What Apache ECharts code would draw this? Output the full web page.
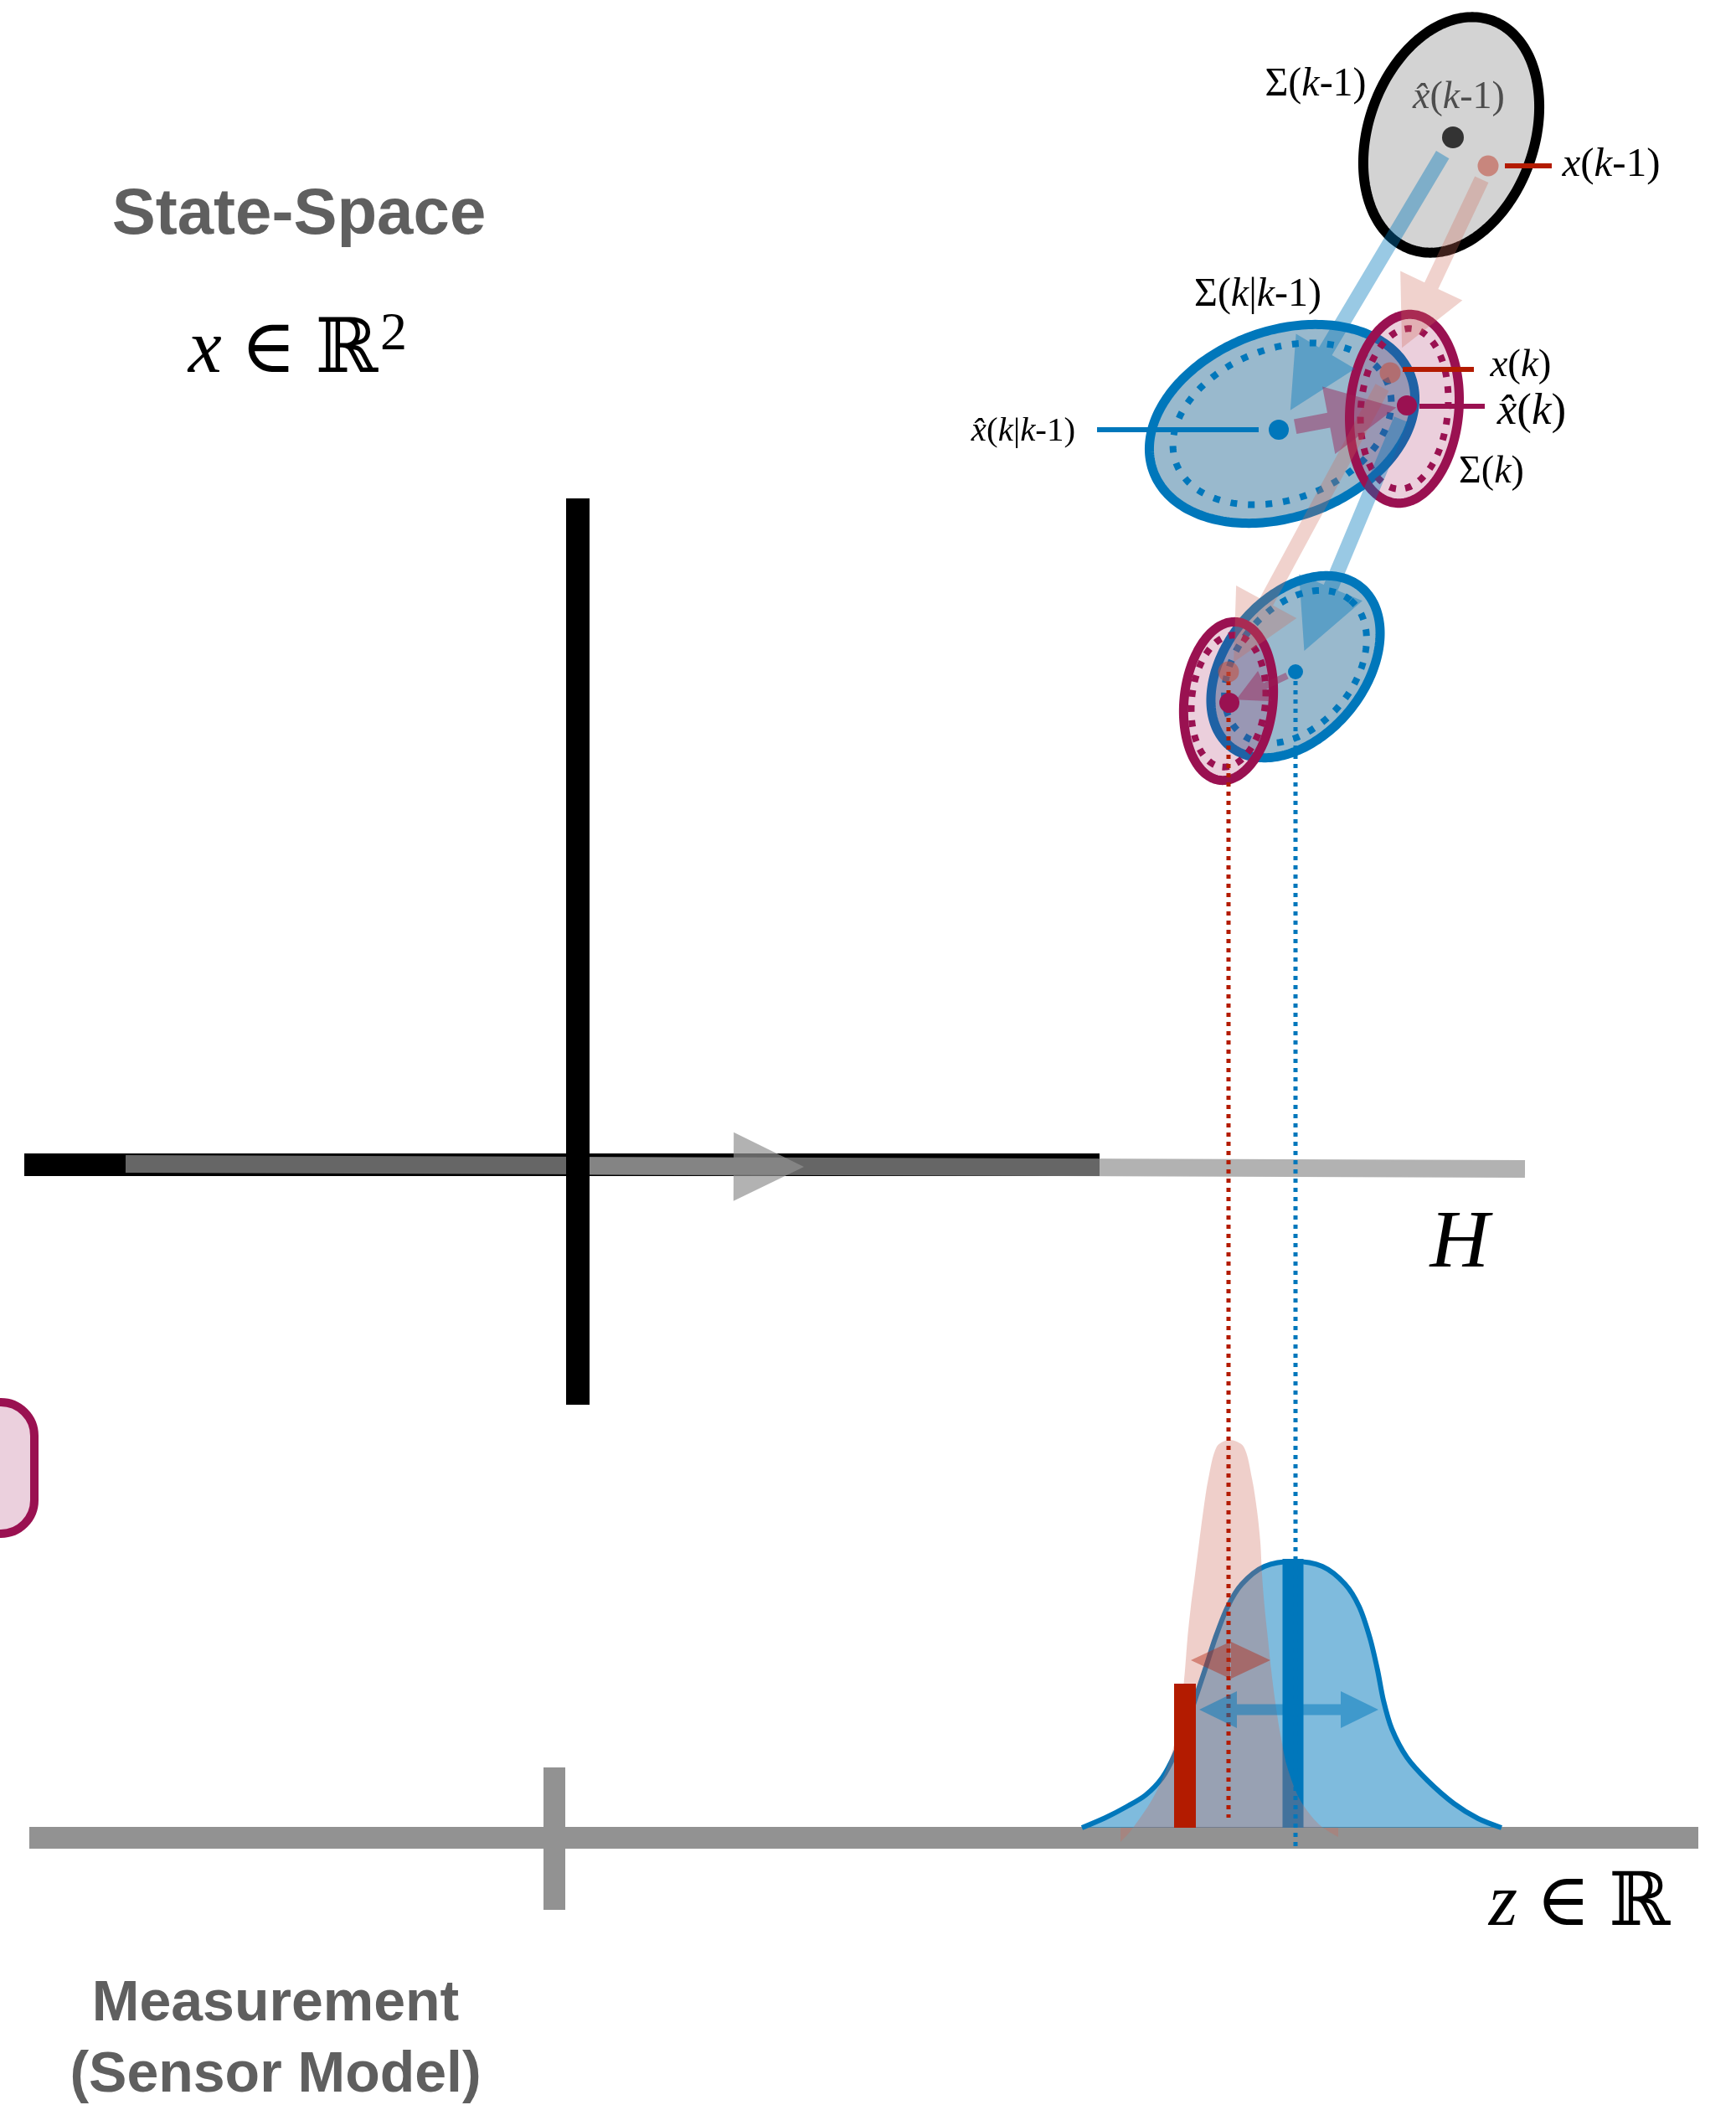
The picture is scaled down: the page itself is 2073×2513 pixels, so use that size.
<!DOCTYPE html>
<html><head><meta charset="utf-8">
<script src="https://cdn.jsdelivr.net/npm/echarts@6/dist/echarts.min.js"></script>
<style>html,body{margin:0;padding:0;background:#fff}#c{width:2073px;height:2513px}</style>
</head><body><div id="c"></div>
<script>
// ================= DATA (diagram units, y grows downward) =================
// Ellipses: [cx, cy, semi-major, semi-minor, major-axis angle in degrees above horizontal]
const ellipseKm1        = [1733, 161, 145, 99, 70.6];   // Σ(k-1)
const ellipsePred       = [1531, 506, 164, 111, 20.3];  // Σ(k|k-1)
const ellipsePredInner  = [1531, 506, 135, 90, 20.3];
const ellipseUpd        = [1677, 488, 113, 65, 85];     // Σ(k)
const ellipseUpdInner   = [1677, 488, 96, 52, 85];
const ellipsePred2      = [1547, 796, 123, 83, 50.6];
const ellipsePred2Inner = [1547, 796, 103, 70, 50.6];
const ellipseUpd2       = [1467, 837, 95, 53, 84];
const ellipseUpd2Inner  = [1467, 837, 79, 44, 84];

// State points
const xhatKm1   = [1735, 164];  // x̂(k-1)
const xKm1      = [1777, 198];  // x(k-1)
const xhatPred  = [1527, 513];  // x̂(k|k-1)
const xhatK     = [1680, 484];  // x̂(k)
const xK        = [1660, 445];  // x(k)
const xhatPred2 = [1547, 802];
const xK1       = [1467, 802];
const xhatK1    = [1468, 839];

// Leader lines for labels
const leadXkm1    = [[1797, 198], [1853, 198]];
const leadXk      = [[1675, 441], [1760, 441]];
const leadXhatK   = [[1695, 485], [1773, 485]];
const leadXhatPrd = [[1310, 513], [1503, 513]];

// Middle: observation map H
const blackBarH   = [[29, 1390.5], [1313, 1390.5]];
const grayBarH    = [[150, 1389.5], [1821, 1395.5]];
const hArrow      = [[690, 1392], [960, 1393]];
const blackBarV   = [[690, 595], [690, 1677]];
const noiseBox    = [-60, 1674, 41, 1831];

// Bottom: measurement space
const zAxisLine   = [[35, 2194], [2028, 2194]];
const zAxisTick   = [[662, 2110], [662, 2280]];
const zBaseline   = 2182;
const zTrueBar    = [[1415, 2182], [1415, 2010]];
const zPredBar    = [[1544, 2182], [1544, 1861]];
const trueDrop    = [[1467, 802], [1467, 2170]];
const predDrop    = [[1547, 802], [1547, 2209]];
const blueCurve = [[1292,2182],[1320,2170],[1345,2157],[1368,2143],[1388,2122],[1403,2094],[1418,2056],
  [1430,2020],[1440,1990],[1451,1956],[1466,1918],[1483,1891],[1510,1870],[1545,1864],[1579,1870],
  [1606,1891],[1623,1918],[1636,1956],[1645,1994],[1652,2030],[1662,2064],[1680,2098],[1705,2126],
  [1736,2153],[1765,2171],[1793,2182]];
const pinkCurve = [[1338,2199],[1350,2186],[1376,2148],[1394,2109],[1405,2071],[1411,2033],[1415,1994],
  [1418,1956],[1422,1918],[1427,1880],[1432,1841],[1437,1803],[1443,1765],[1453,1727],[1468,1719],
  [1485,1727],[1495,1765],[1501,1803],[1505,1841],[1507,1880],[1510,1918],[1514,1956],[1518,1994],
  [1523,2033],[1529,2071],[1537,2109],[1552,2148],[1575,2178],[1598,2193]];
const redSpread  = [[1422, 1982], [1517, 1982]];
const blueSpread = [[1432, 2041], [1646, 2041]];

// Text labels: [x, y]
const posStateSpace = [357, 257];
const posXinR2 = [338, 420], posSup2 = [470, 400];
const posH = [1743, 1486];
const posZinR = [1886, 2275];
const posMeas1 = [329, 2393], posMeas2 = [329, 2478];
const posSigKm1 = [1571, 101], posXhatKm1 = [1742, 117], posXKm1 = [1924, 197];
const posSigPred = [1502, 352], posXk = [1816, 437], posXhatK = [1829, 492];
const posSigK = [1781, 564], posXhatPred = [1222, 515];

// ================= STYLE =================
const BLUE = '#0077bb', PURPLE = '#9a1151', RED = '#b31b00';
const serif = '"Liberation Serif","DejaVu Serif",serif';
const sans = '"Liberation Sans","Arial","DejaVu Sans",sans-serif';

const series = [];
function add(s) { s.silent = true; s.animation = false; s.z = series.length + 1; series.push(s); }

function seg(points, color, width, dash) {
  return {type:'line', data:points, symbol:'none', smooth:false,
    lineStyle:{color, width, type: dash || 'solid', cap:'butt'}};
}
function ellipse(e, style) {
  return {type:'custom', coordinateSystem:'cartesian2d', data:[e],
    renderItem(p, api) {
      const c = api.coord([api.value(0), api.value(1)]);
      const s = api.size([1, 1]);
      const a = api.value(2), b = api.value(3), t = api.value(4) * Math.PI / 180;
      const pts = [];
      for (let i = 0; i < 240; i++) {
        const u = 2 * Math.PI * i / 240, ex = a * Math.cos(u), ey = b * Math.sin(u);
        const dx = ex * Math.cos(t) - ey * Math.sin(t), dy = ex * Math.sin(t) + ey * Math.cos(t);
        pts.push([c[0] + dx * s[0], c[1] - dy * s[1]]);
      }
      return {type:'polygon', shape:{points:pts}, style:Object.assign({}, style)};
    }};
}
function arrow(from, to, g, color) {
  return {type:'custom', coordinateSystem:'cartesian2d', data:[[from[0], from[1], to[0], to[1]]],
    renderItem(p, api) {
      const a = api.coord([api.value(0), api.value(1)]), b = api.coord([api.value(2), api.value(3)]);
      const dx = b[0]-a[0], dy = b[1]-a[1], L = Math.hypot(dx, dy), ux = dx/L, uy = dy/L, nx = -uy, ny = ux;
      const s = [a[0]+ux*g.s0, a[1]+uy*g.s0], t = [b[0]-ux*g.s1, b[1]-uy*g.s1], m = [t[0]-ux*g.hl, t[1]-uy*g.hl];
      const P = (q, k) => [q[0]+nx*k, q[1]+ny*k];
      return {type:'polygon', shape:{points:[P(s,g.w/2),P(m,g.w/2),P(m,g.hw),t,P(m,-g.hw),P(m,-g.w/2),P(s,-g.w/2)]},
        style:{fill:color}};
    }};
}
function dblArrow(pair, g, color) {
  return {type:'custom', coordinateSystem:'cartesian2d', data:[[pair[0][0], pair[0][1], pair[1][0], pair[1][1]]],
    renderItem(p, api) {
      const l = api.coord([api.value(0), api.value(1)]), r = api.coord([api.value(2), api.value(3)]);
      const y = l[1], bl = l[0] + g.hl, br = r[0] - g.hl;
      return {type:'polygon', shape:{points:[[l[0],y],[bl,y-g.hw],[bl,y-g.w/2],[br,y-g.w/2],[br,y-g.hw],[r[0],y],
        [br,y+g.hw],[br,y+g.w/2],[bl,y+g.w/2],[bl,y+g.hw]]}, style:{fill:color}};
    }};
}
function dots(points, color, size) {
  return {type:'scatter', data:points, symbol:'circle', symbolSize:size, itemStyle:{color, opacity:1}};
}
function text(pos, str, st) {
  return {type:'custom', coordinateSystem:'cartesian2d', data:[pos],
    renderItem(p, api) {
      const c = api.coord([api.value(0), api.value(1)]);
      return {type:'text', x:c[0], y:c[1],
        style:Object.assign({text:str, align:'center', verticalAlign:'middle'}, st)};
    }};
}
function mathStyle(size, color) {
  color = color || '#000';
  return {fontFamily:serif, fontSize:size, fill:color,
    rich:{i:{fontFamily:serif, fontSize:size, fontStyle:'italic', fill:color}}};
}

// ---- middle: H ----
add(seg(blackBarH, '#000', 27));
add(seg(grayBarH, 'rgba(146,146,146,0.7)', 21));
add(arrow(hArrow[0], hArrow[1], {s0:0, s1:0, w:21, hw:41, hl:84}, 'rgba(146,146,146,0.7)'));
add(seg(blackBarV, '#000', 28));
add({type:'custom', coordinateSystem:'cartesian2d', data:[noiseBox],
  renderItem(p, api) {
    const a = api.coord([api.value(0), api.value(1)]), b = api.coord([api.value(2), api.value(3)]);
    return {type:'rect', shape:{x:a[0], y:a[1], width:b[0]-a[0], height:b[1]-a[1], r:40},
      style:{fill:'#ebd0dd', stroke:PURPLE, lineWidth:10}};
  }});

// ---- bottom: measurement ----
add(seg(zAxisLine, '#929292', 26));
add(seg(zAxisTick, '#929292', 26));
add({type:'line', data:blueCurve, symbol:'none', smooth:0.3,
  lineStyle:{color:BLUE, width:6}, areaStyle:{color:'rgba(0,119,187,0.5)', opacity:1, origin:zBaseline}});
add(seg(zPredBar, BLUE, 25));
add({type:'line', data:pinkCurve, symbol:'none', smooth:0.3,
  lineStyle:{width:0, opacity:0}, areaStyle:{color:'rgba(205,105,90,0.32)', opacity:1, origin:zBaseline}});
add(seg(zTrueBar, RED, 26));

// ---- state space ellipses ----
add(ellipse(ellipseKm1, {fill:'#d3d3d3', stroke:'#000', lineWidth:12}));
add(ellipse(ellipsePred, {fill:'rgba(60,120,160,0.52)', stroke:BLUE, lineWidth:11}));
add(ellipse(ellipsePredInner, {fill:'none', stroke:BLUE, lineWidth:8, lineDash:[8,13]}));
add(ellipse(ellipseUpd, {fill:'rgba(153,15,80,0.2)', stroke:PURPLE, lineWidth:11}));
add(ellipse(ellipseUpdInner, {fill:'none', stroke:PURPLE, lineWidth:8, lineDash:[8,11]}));
add(ellipse(ellipsePred2, {fill:'rgba(60,120,160,0.52)', stroke:BLUE, lineWidth:11}));
add(ellipse(ellipsePred2Inner, {fill:'none', stroke:BLUE, lineWidth:8, lineDash:[8,12]}));
add(ellipse(ellipseUpd2, {fill:'rgba(153,15,80,0.2)', stroke:PURPLE, lineWidth:11}));
add(ellipse(ellipseUpd2Inner, {fill:'none', stroke:PURPLE, lineWidth:8, lineDash:[8,10]}));

// ---- projections ----
add(seg(trueDrop, RED, 5, [5, 6]));
add(seg(predDrop, BLUE, 5, [5, 6]));

// ---- arrows ----
const big = (s0, s1) => ({s0, s1, w:18, hw:41, hl:82});
add(arrow(xhatKm1, xhatPred, big(24, 27), 'rgba(0,119,187,0.4)'));
add(arrow(xKm1, xK, big(18, 33), 'rgba(205,105,90,0.3)'));
add(arrow(xhatK, xhatPred2, big(18, 27), 'rgba(0,119,187,0.4)'));
add(arrow(xK, xK1, big(20, 13), 'rgba(205,105,90,0.3)'));
add(arrow(xhatPred, xhatK, big(20, 13), 'rgba(156,31,84,0.45)'));
add(arrow(xhatPred2, xhatK1, {s0:11, s1:9, w:8, hw:20, hl:38}, 'rgba(156,31,84,0.45)'));
add(dblArrow(redSpread, {hl:47, hw:22, w:6}, 'rgba(180,40,20,0.45)'));
add(dblArrow(blueSpread, {hl:45, hw:22, w:13}, 'rgba(0,119,187,0.5)'));

// ---- points ----
add(dots([xhatKm1], '#333', 26));
add(dots([xKm1, xK, xK1], 'rgba(193,84,68,0.6)', 25));
add(dots([xhatPred], BLUE, 24));
add(dots([xhatPred2], BLUE, 18));
add(dots([xhatK, xhatK1], PURPLE, 24));

// ---- leader lines ----
add(seg(leadXkm1, RED, 6));
add(seg(leadXk, RED, 6));
add(seg(leadXhatK, PURPLE, 6));
add(seg(leadXhatPrd, BLUE, 6));

// ---- text ----
const headStyle = (size) => ({fontFamily:sans, fontWeight:'bold', fontSize:size, fill:'#5f5f5f'});
add(text(posStateSpace, 'State-Space', headStyle(78)));
add(text(posMeas1, 'Measurement', headStyle(68)));
add(text(posMeas2, '(Sensor Model)', headStyle(68)));
add(text(posXinR2, '{i|x} \u2208 \u211D', mathStyle(90)));
add(text(posSup2, '2', mathStyle(64)));
add(text(posH, '{i|H}', mathStyle(98)));
add(text(posZinR, '{i|z} \u2208 \u211D', mathStyle(88)));
add(text(posSigKm1, '\u03A3({i|k}-1)', mathStyle(48)));
add(text(posXhatKm1, '{i|x\u0302}({i|k}-1)', mathStyle(46, '#4d4d4d')));
add(text(posXKm1, '{i|x}({i|k}-1)', mathStyle(49)));
add(text(posSigPred, '\u03A3({i|k}|{i|k}-1)', mathStyle(48)));
add(text(posXk, '{i|x}({i|k})', mathStyle(47)));
add(text(posXhatK, '{i|x\u0302}({i|k})', mathStyle(53)));
add(text(posSigK, '\u03A3({i|k})', mathStyle(46)));
add(text(posXhatPred, '{i|x\u0302}({i|k}|{i|k}-1)', mathStyle(41)));

const chart = echarts.init(document.getElementById('c'), null, {renderer:'canvas', width:2073, height:2513});
chart.setOption({
  animation:false,
  backgroundColor:'#fff',
  grid:{left:0, right:0, top:0, bottom:0},
  xAxis:{type:'value', min:0, max:2073, show:false},
  yAxis:{type:'value', min:0, max:2513, inverse:true, show:false},
  series
});
</script></body></html>
